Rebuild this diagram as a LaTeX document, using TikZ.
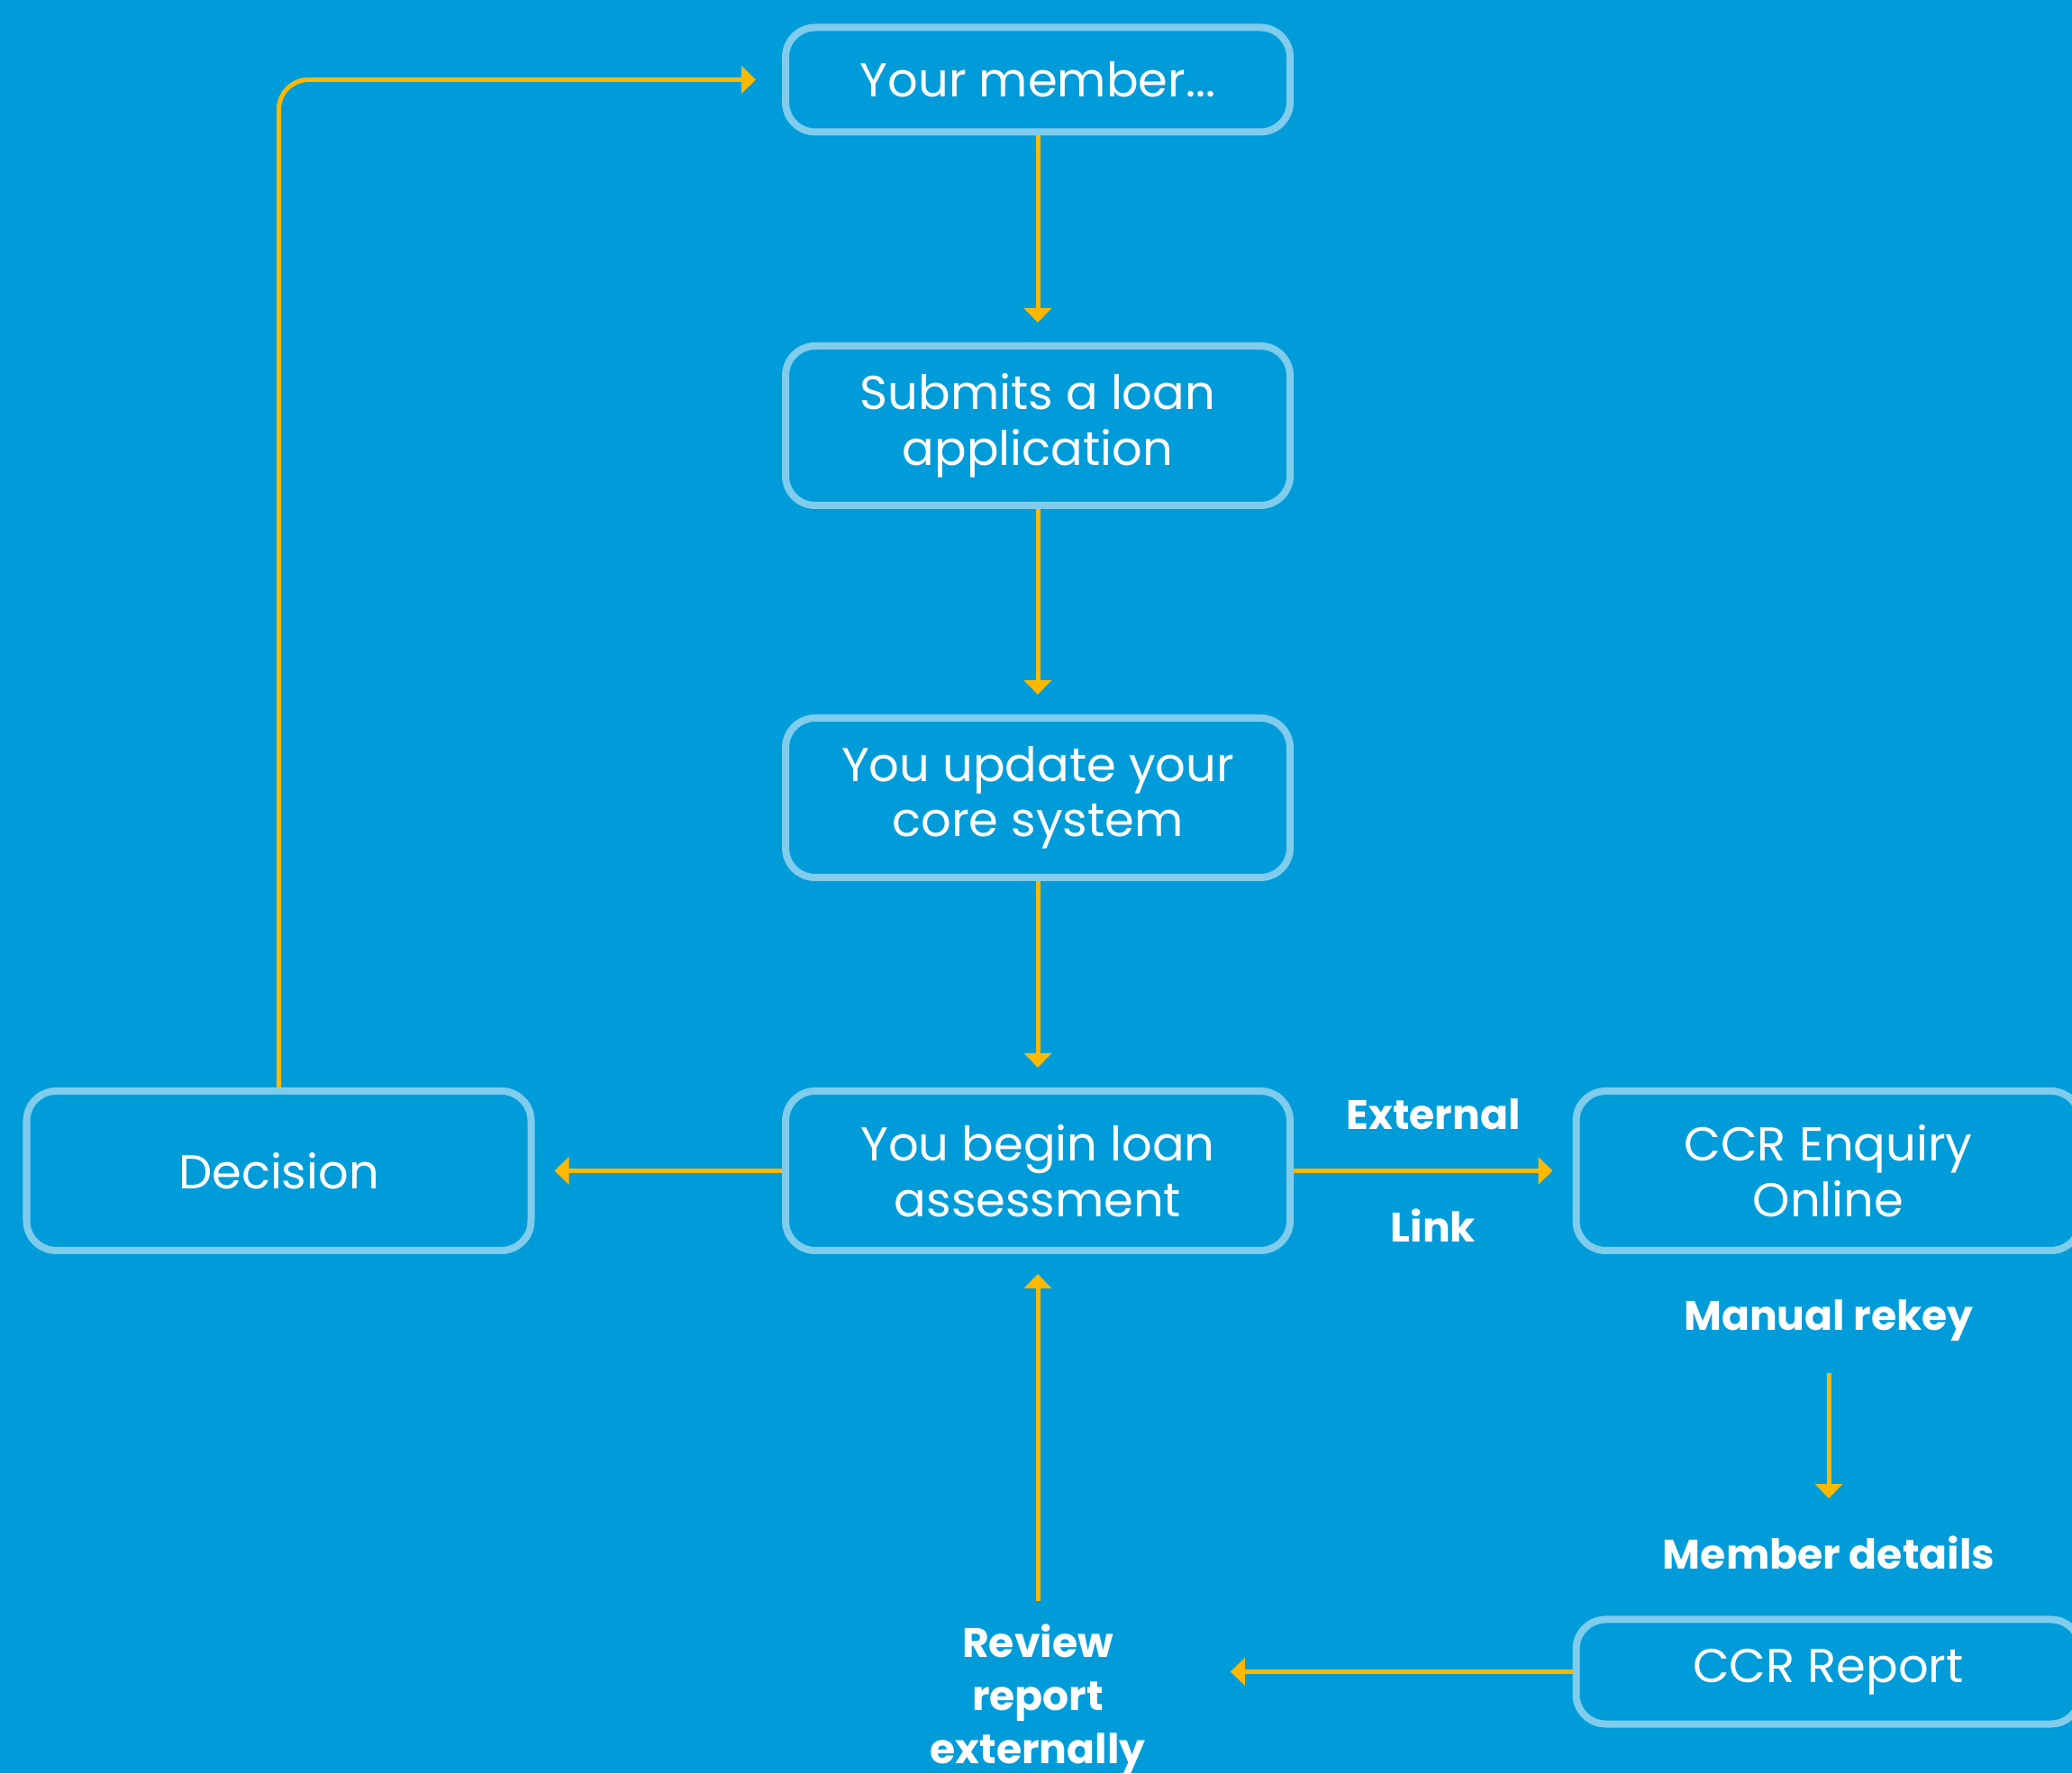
\documentclass[tikz,border=0pt]{standalone}
\usepackage{fontspec}
\setmainfont{Poppins}
\usetikzlibrary{arrows.meta}
\definecolor{bgblue}{RGB}{0,156,217}
\definecolor{boxline}{RGB}{128,204,236}
\definecolor{flowyellow}{RGB}{255,184,0}
\begin{document}
\begin{tikzpicture}[
		box/.style={draw=boxline,line width=0.08cm,rounded corners=0.33cm,text=white,align=center,
			minimum width=5.6cm,minimum height=1.77cm,font=\fontsize{15}{17.5}\selectfont},
		smallbox/.style={box,minimum height=1.16cm},
		lbl/.style={text=white,align=center,font=\bfseries\fontsize{13}{16.8}\selectfont},
		flow/.style={draw=flowyellow,line width=0.05cm,-{Triangle[length=0.16cm,width=0.30cm]},shorten >=0.22cm}]
			\useasboundingbox (0,0) rectangle (23,19.68);
			\clip (0,0) rectangle (23,19.68);
			\fill[bgblue] (0,0) rectangle (23,19.68);
			\node[smallbox] (member) at (11.52,18.795) {Your member...};
			\node[box] (submit) at (11.52,14.955) {Submits a loan\\application};
			\node[box] (update) at (11.52,10.825) {You update your\\core system};
			\node[box] (begin) at (11.52,6.685) {You begin loan\\assessment};
			\node[box] (decision) at (3.095,6.685) {Decision};
			\node[box] (enquiry) at (20.295,6.685) {CCR Enquiry\\Online};
			\node[smallbox] (report) at (20.295,1.125) {CCR Report};
			\node[lbl] (external) at (15.91,7.31) {External};
			\node[lbl] (link) at (15.91,6.08) {Link};
			\node[lbl] (rekey) at (20.30,5.02) {Manual rekey};
			\node[lbl] (details) at (20.30,2.45) {Member details};
			\node[lbl] (review) at (11.52,0.82) {Review\\report\\externally};
			\draw[flow] (member) -- (submit);
			\draw[flow] (submit) -- (update);
			\draw[flow] (update) -- (begin);
			\draw[flow] (begin) -- (decision);
			\draw[flow] (begin) -- (enquiry);
			\draw[flow,shorten <=0.23cm,shorten >=0.29cm] (rekey) -- (details);
			\draw[flow,shorten >=0.82cm] (report) -- (report -| review.east);
			\draw[flow,shorten <=0.13cm] (review) -- (begin);
			\draw[flow,rounded corners=0.33cm,shorten >=0.29cm] (decision) |- (member);
		\end{tikzpicture}
\end{document}
